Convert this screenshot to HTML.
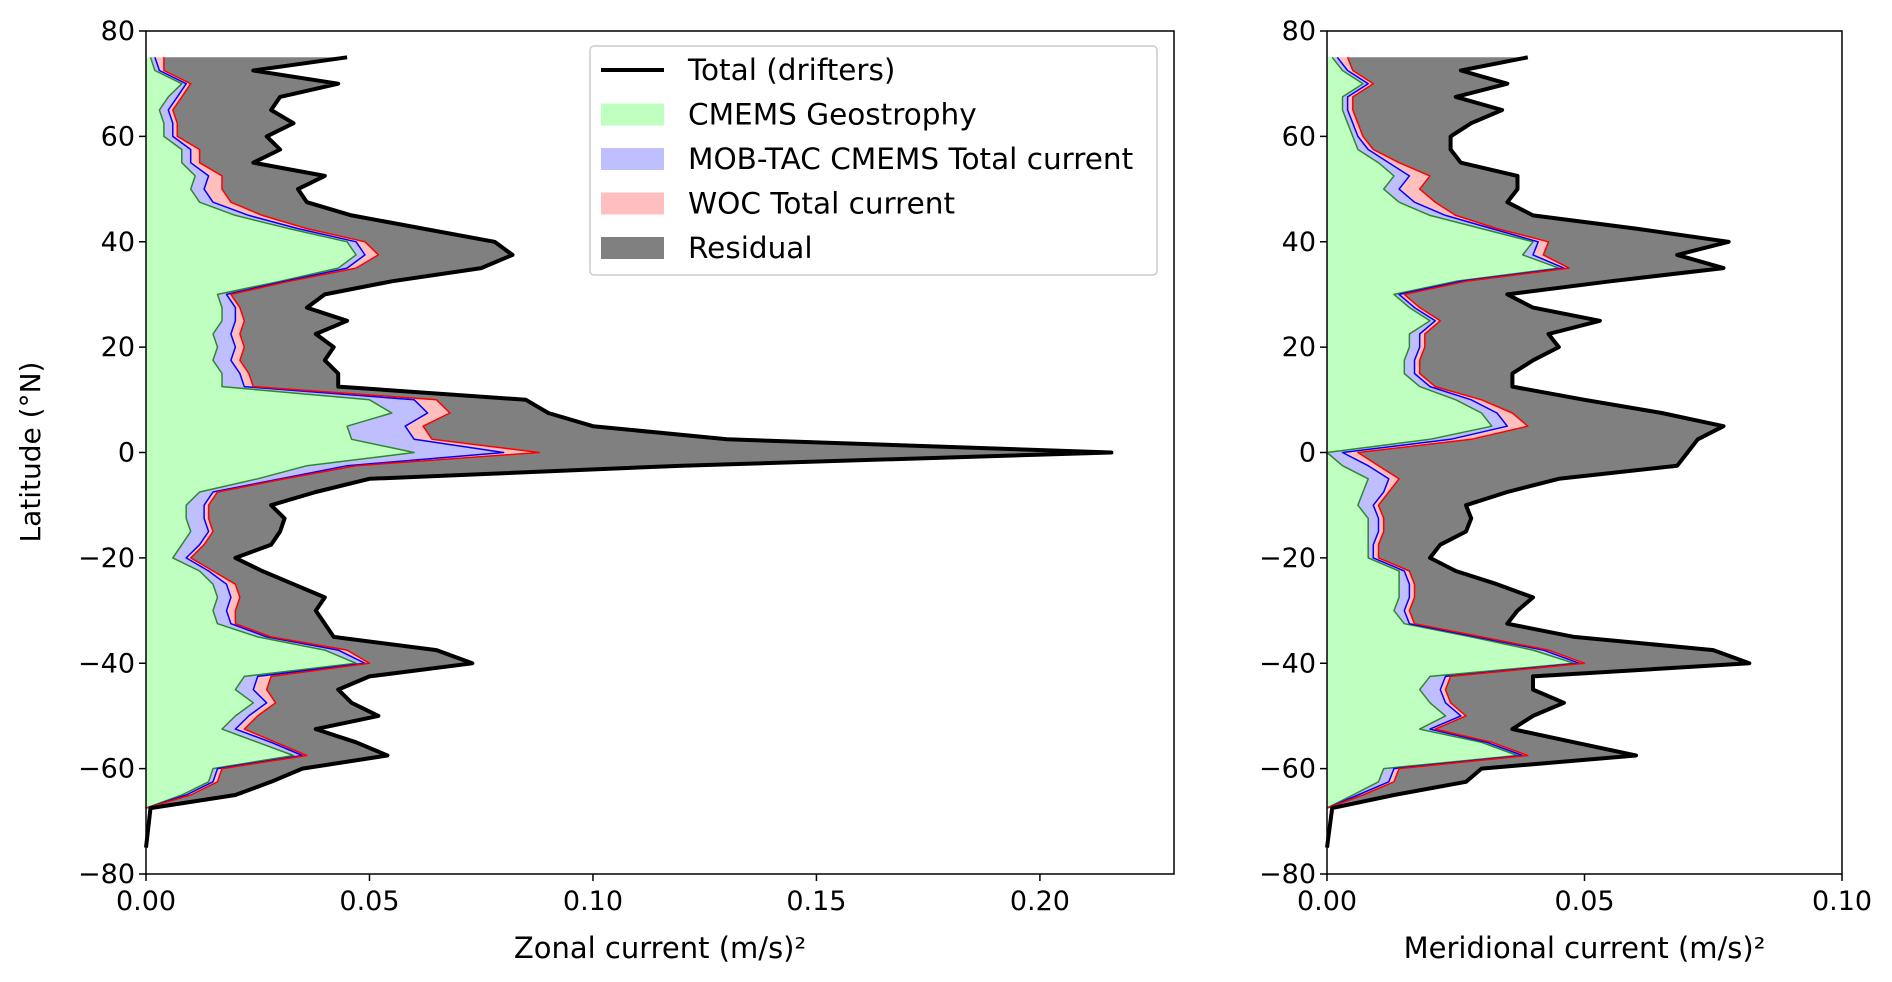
<!DOCTYPE html>
<html><head><meta charset="utf-8"><style>
body{margin:0;background:#fff;}
svg{display:block;font-family:"DejaVu Sans","Liberation Sans",sans-serif;}
</style></head><body>
<svg id="c" width="1892" height="982" viewBox="0 0 1892 982"></svg>
<script>
const lats=[75,72.5,70,67.5,65,62.5,60,57.5,55,52.5,50,47.5,45,42.5,40,37.5,35,32.5,30,27.5,25,22.5,20,17.5,15,12.5,10,7.5,5,2.5,0,-2.5,-5,-7.5,-10,-12.5,-15,-17.5,-20,-22.5,-25,-27.5,-30,-32.5,-35,-37.5,-40,-42.5,-45,-47.5,-50,-52.5,-55,-57.5,-60,-62.5,-65,-67.5];
const zTotal=[.045,.024,.043,.030,.028,.033,.027,.030,.024,.040,.034,.036,.046,.062,.078,.082,.075,.055,.040,.036,.045,.038,.042,.040,.043,.043,.085,.090,.100,.130,.216,.120,.050,.038,.028,.031,.030,.028,.020,.026,.033,.040,.038,.040,.042,.065,.073,.050,.043,.046,.052,.038,.047,.054,.035,.028,.020,.001];
const zGeo=[.001,.002,.008,.005,.003,.004,.004,.008,.008,.011,.010,.012,.020,.032,.045,.047,.043,.030,.016,.017,.017,.015,.016,.015,.017,.017,.050,.055,.045,.046,.060,.036,.025,.012,.009,.009,.010,.008,.006,.012,.015,.016,.015,.016,.025,.040,.047,.022,.020,.024,.020,.017,.025,.033,.015,.014,.008,.000];
const zMob=[.002,.003,.009,.007,.005,.006,.006,.010,.010,.014,.013,.015,.023,.034,.047,.049,.045,.031,.018,.020,.020,.019,.020,.019,.021,.022,.060,.063,.058,.060,.080,.045,.030,.015,.013,.013,.014,.012,.009,.014,.018,.019,.018,.019,.027,.043,.049,.025,.024,.027,.023,.020,.028,.035,.016,.015,.009,.000];
const zWoc=[.004,.004,.010,.008,.006,.007,.007,.012,.012,.017,.017,.019,.026,.036,.049,.052,.047,.032,.019,.021,.022,.021,.022,.021,.023,.024,.065,.068,.062,.064,.088,.047,.031,.016,.014,.014,.015,.013,.010,.015,.020,.021,.020,.020,.028,.045,.050,.028,.027,.029,.025,.022,.029,.036,.017,.016,.010,.000];
const mTotal=[.039,.026,.035,.025,.034,.028,.024,.024,.026,.037,.037,.035,.040,.060,.078,.068,.077,.055,.035,.040,.053,.043,.045,.040,.036,.036,.050,.065,.077,.072,.070,.068,.045,.035,.027,.028,.027,.022,.020,.025,.033,.040,.037,.035,.048,.075,.082,.040,.040,.046,.040,.036,.048,.060,.030,.027,.013,.001];
const mGeo=[.001,.003,.007,.003,.003,.004,.005,.006,.010,.013,.011,.014,.020,.030,.040,.038,.045,.025,.013,.016,.020,.016,.016,.015,.015,.018,.025,.030,.032,.020,.000,.003,.008,.007,.006,.008,.008,.008,.008,.014,.014,.014,.013,.015,.028,.040,.048,.020,.018,.020,.023,.018,.030,.037,.011,.010,.005,.000];
const mMob=[.002,.004,.008,.004,.004,.005,.006,.008,.012,.016,.014,.017,.023,.032,.041,.040,.046,.026,.014,.017,.021,.018,.018,.017,.017,.020,.028,.033,.035,.024,.003,.008,.012,.011,.009,.010,.010,.009,.009,.015,.016,.016,.015,.016,.029,.042,.049,.023,.022,.023,.026,.020,.031,.038,.013,.012,.006,.000];
const mWoc=[.004,.005,.009,.005,.005,.006,.007,.009,.014,.020,.018,.021,.025,.033,.043,.042,.047,.027,.015,.018,.022,.019,.019,.018,.018,.021,.030,.036,.039,.028,.006,.010,.014,.012,.010,.011,.011,.010,.010,.016,.017,.017,.016,.017,.030,.043,.050,.024,.023,.024,.027,.021,.032,.039,.014,.013,.007,.000];
const yTicks=[80,60,40,20,0,-20,-40,-60,-80];
const zXTicks=[0,0.05,0.10,0.15,0.20];
const mXTicks=[0,0.05,0.10];

const NS='http://www.w3.org/2000/svg';
const svg=document.getElementById('c');
function mk(tag,attrs,parent){const e=document.createElementNS(NS,tag);for(const k in attrs)e.setAttribute(k,attrs[k]);(parent||svg).appendChild(e);return e;}
const Y0=31,Y1=874;
function ys(v){return Y0+(80-v)/160*(Y1-Y0);}

function panel(key,x0,x1,xmax,ticks,total,geo,mob,woc,xlabel){
  const g=mk('g',{});
  
  
  const xs=v=>x0+v/xmax*(x1-x0);
  function band(lo,hi,fill,name){
    let d='';
    lats.forEach((la,i)=>{d+=(i?'L':'M')+xs(hi?hi[i]:0).toFixed(1)+','+ys(la).toFixed(1);});
    for(let i=lats.length-1;i>=0;i--){d+='L'+xs(lo?lo[i]:0).toFixed(1)+','+ys(lats[i]).toFixed(1);}
    const p=mk('path',{d:d+'Z',fill:fill,stroke:'none'},g);
    
    
  }
  function line(arr,col,w,name,ext){
    let d='';
    lats.forEach((la,i)=>{d+=(i?'L':'M')+xs(arr[i]).toFixed(1)+','+ys(la).toFixed(1);});
    if(ext)d+='L'+xs(0)+','+ys(-75);
    const p=mk('path',{d:d,fill:'none',stroke:col,'stroke-width':w,'stroke-linejoin':'round'},g);
    
    
  }
  band(null,geo,'#bfffbf',key+'-geostrophy-area');
  band(geo,mob,'#bfbfff',key+'-mobtac-area');
  band(mob,woc,'#ffbfbf',key+'-woc-area');
  band(woc,total,'#808080',key+'-residual-area');
  line(geo,'#2a8a2a',1.5,key+'-geostrophy-line');
  line(mob,'#0000ff',1.5,key+'-mobtac-line');
  line(woc,'#ff0000',1.5,key+'-woc-line');
  line(total,'#000',4,key+'-total-line',true);
  const fr=mk('rect',{x:x0,y:Y0,width:x1-x0,height:Y1-Y0,fill:'none',stroke:'#000','stroke-width':1.5},g);
  
  
  yTicks.forEach(t=>{
    mk('line',{x1:x0-7,x2:x0,y1:ys(t),y2:ys(t),stroke:'#000','stroke-width':1.5},g);
    const tx=mk('text',{x:x0-11,y:ys(t)+9,'text-anchor':'end','font-size':27},g);
    tx.textContent=(t<0?'\u2212'+(-t):''+t);
    
    
  });
  ticks.forEach(t=>{
    mk('line',{x1:xs(t),x2:xs(t),y1:Y1,y2:Y1+7,stroke:'#000','stroke-width':1.5},g);
    const tx=mk('text',{x:xs(t),y:Y1+36,'text-anchor':'middle','font-size':27},g);
    tx.textContent=t.toFixed(2);
    
    
  });
  const xl=mk('text',{x:(x0+x1)/2,y:958,'text-anchor':'middle','font-size':29},g);
  xl.textContent=xlabel;
  
  
}
panel('zonal',146,1174,0.23,zXTicks,zTotal,zGeo,zMob,zWoc,'Zonal current (m/s)\u00B2');
panel('meridional',1327,1842,0.10,mXTicks,mTotal,mGeo,mMob,mWoc,'Meridional current (m/s)\u00B2');

const yl=mk('text',{x:0,y:0,'text-anchor':'middle','font-size':28,transform:'translate(40,452) rotate(-90)'});
yl.textContent='Latitude (\u00B0N)';



const lg=mk('g',{});


mk('rect',{x:590,y:46,width:567,height:229,rx:4,fill:'#fff',stroke:'#ccc','stroke-width':1.5},lg);
const items=[['Total (drifters)','line','#000'],['CMEMS Geostrophy','patch','#bfffbf'],['MOB-TAC CMEMS Total current','patch','#bfbfff'],['WOC Total current','patch','#ffbfbf'],['Residual','patch','#808080']];
items.forEach((it,i)=>{
  const cy=70+i*44.5;
  if(it[1]==='line'){const l=mk('line',{x1:601,x2:664,y1:cy,y2:cy,stroke:'#000','stroke-width':4},lg);}
  else{const r=mk('rect',{x:601,y:cy-11,width:63,height:22,fill:it[2]},lg);}
  const t=mk('text',{x:688,y:cy+10,'font-size':29.5},lg);
  t.textContent=it[0];
  
  
});
</script>
</body></html>
